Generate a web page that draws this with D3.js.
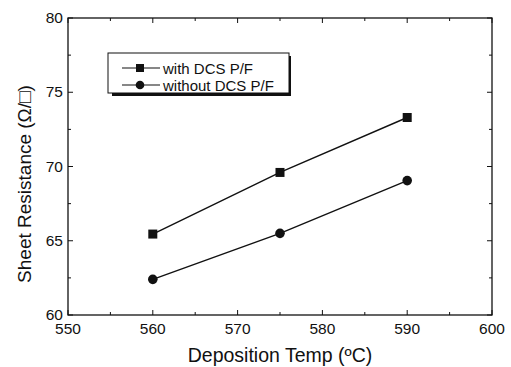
<!DOCTYPE html>
<html>
<head>
<meta charset="utf-8">
<script src="https://cdn.jsdelivr.net/npm/d3@7"></script>
<style>
  body { margin: 0; background: #fff; }
  svg text { font-family: "Liberation Sans", Arial, sans-serif; fill: #111; }
</style>
</head>
<body>
<div id="chart"></div>
<script>
// data
var temps = [560, 575, 590];
var withDcs = [65.45, 69.6, 73.3];
var withoutDcs = [62.4, 65.5, 69.05];
var seriesNames = ["with DCS P/F", "without DCS P/F"];
var xTicks = [550, 560, 570, 580, 590, 600];
var yTicks = [60, 65, 70, 75, 80];

var width = 511, height = 367;
var margin = {left: 68, right: 19, top: 18, bottom: 52};

var svg = d3.select("#chart").append("svg")
  .attr("width", width)
  .attr("height", height);

var x = d3.scaleLinear().domain([550, 600]).range([margin.left, width - margin.right]);
var y = d3.scaleLinear().domain([60, 80]).range([height - margin.bottom, margin.top]);

/* frame */
svg.append("rect")
  .attr("x", x(550)).attr("y", y(80))
  .attr("width", x(600) - x(550)).attr("height", y(60) - y(80))
  .attr("fill", "none").attr("stroke", "#111").attr("stroke-width", 1.3);

/* ticks, inward, on all sides */
var xMinor = d3.range(555, 600, 10);
var yMinor = d3.range(62.5, 80, 5);
function ticks(g, axis, vals, len) {
  g.selectAll(null).data(vals).enter().append("line")
    .attr("stroke", "#111").attr("stroke-width", 1)
    .each(function (v) {
      var s = d3.select(this);
      if (axis === "bottom") s.attr("x1", x(v)).attr("x2", x(v)).attr("y1", y(60)).attr("y2", y(60) - len);
      if (axis === "top") s.attr("x1", x(v)).attr("x2", x(v)).attr("y1", y(80)).attr("y2", y(80) + len);
      if (axis === "left") s.attr("y1", y(v)).attr("y2", y(v)).attr("x1", x(550)).attr("x2", x(550) + len);
      if (axis === "right") s.attr("y1", y(v)).attr("y2", y(v)).attr("x1", x(600)).attr("x2", x(600) - len);
    });
}
var tg = svg.append("g");
["bottom", "top"].forEach(function (a) { ticks(tg, a, xTicks, 5); ticks(tg, a, xMinor, 3); });
["left", "right"].forEach(function (a) { ticks(tg, a, yTicks, 5); ticks(tg, a, yMinor, 3); });

/* tick labels */
svg.append("g").selectAll("text").data(xTicks).enter().append("text")
  .attr("x", d => x(d)).attr("y", y(60) + 19)
  .attr("text-anchor", "middle").attr("font-size", 15.5)
  .text(d => d);
svg.append("g").selectAll("text").data(yTicks).enter().append("text")
  .attr("x", x(550) - 5).attr("y", d => y(d) + 5)
  .attr("text-anchor", "end").attr("font-size", 15.5)
  .text(d => d);

/* axis titles */
svg.append("text")
  .attr("x", (x(550) + x(600)) / 2).attr("y", 362)
  .attr("text-anchor", "middle").attr("font-size", 19.5)
  .text("Deposition Temp (\u00baC)");
svg.append("text")
  .attr("transform", "translate(31,184) rotate(-90)")
  .attr("text-anchor", "middle").attr("font-size", 19)
  .text("Sheet Resistance (\u03a9/\u25a1)");

/* lines and markers */
var line = d3.line().x((d, i) => x(temps[i])).y(d => y(d));
[withDcs, withoutDcs].forEach(function (vals, k) {
  svg.append("path").attr("d", line(vals))
    .attr("fill", "none").attr("stroke", "#111").attr("stroke-width", 1.4);
  var m = svg.append("g").selectAll(null).data(vals).enter();
  if (k === 0) {
    m.append("rect")
      .attr("x", (d, i) => x(temps[i]) - 4.5).attr("y", d => y(d) - 4.5)
      .attr("width", 9).attr("height", 9).attr("fill", "#111");
  } else {
    m.append("circle")
      .attr("cx", (d, i) => x(temps[i])).attr("cy", d => y(d))
      .attr("r", 4.8).attr("fill", "#111");
  }
});

/* legend */
var lg = svg.append("g").attr("transform", "translate(108,53)");
lg.append("rect").attr("x", 4).attr("y", 3).attr("width", 179).attr("height", 40).attr("fill", "#111");
lg.append("rect").attr("x", 0).attr("y", 0).attr("width", 181).attr("height", 40)
  .attr("fill", "#fff").attr("stroke", "#111").attr("stroke-width", 1);
seriesNames.forEach(function (name, k) {
  var yy = 15 + k * 17;
  lg.append("line").attr("x1", 14).attr("x2", 52).attr("y1", yy).attr("y2", yy)
    .attr("stroke", "#111").attr("stroke-width", 1.2);
  if (k === 0) {
    lg.append("rect").attr("x", 28).attr("y", yy - 4).attr("width", 8).attr("height", 8).attr("fill", "#111");
  } else {
    lg.append("circle").attr("cx", 32).attr("cy", yy).attr("r", 4.3).attr("fill", "#111");
  }
  lg.append("text").attr("x", 55).attr("y", yy + 5.5).attr("font-size", 15).text(name);
});
</script>
</body>
</html>
